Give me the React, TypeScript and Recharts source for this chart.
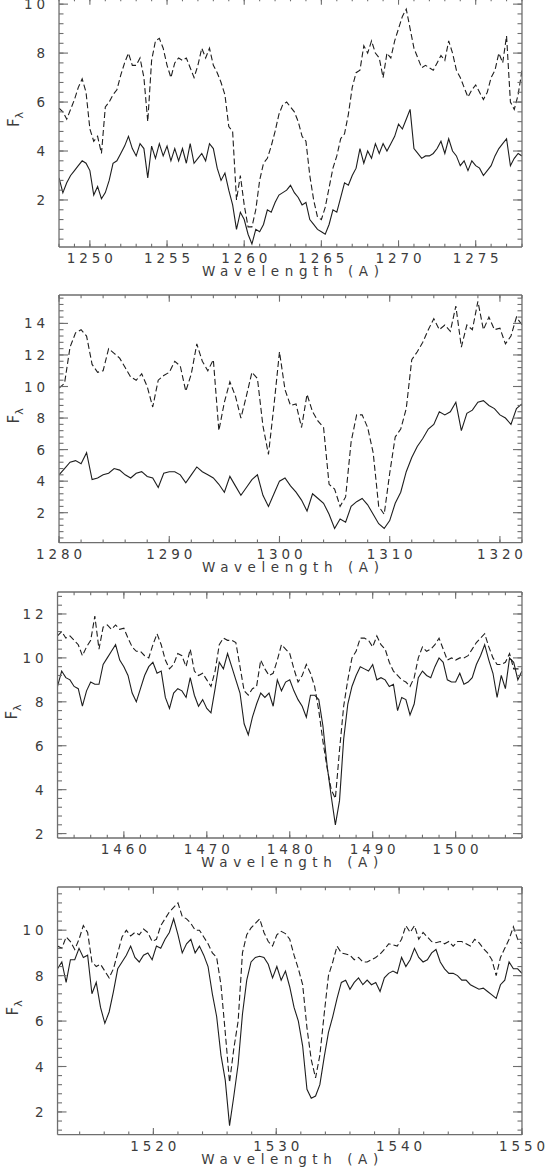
import React from "react";
import { LineChart, Line, XAxis, YAxis } from "recharts";

// ---------------------------------------------------------------------------
// Spectra (flux, on a regular wavelength grid)
// ---------------------------------------------------------------------------
const P1_START = 1248;
const P1_STEP = 0.25;
const P1_SOLID = [
  2.9, 2.3, 2.7, 3.0, 3.2, 3.4, 3.6, 3.5, 3.2, 2.2, 2.55, 2.05,
  2.3, 2.8, 3.5, 3.6, 3.9, 4.2, 4.6, 4.1, 3.8, 4.3, 4.1, 2.9,
  4.2, 3.7, 4.3, 3.8, 4.2, 3.6, 4.1, 3.6, 4.1, 3.5, 4.3, 3.5,
  3.7, 3.9, 3.6, 4.3, 4.1, 3.3, 2.8, 3.1, 2.4, 1.8, 0.8, 1.5,
  1.2, 0.6, 0.2, 0.8, 0.7, 1.0, 1.6, 1.5, 1.9, 2.2, 2.3, 2.4,
  2.6, 2.3, 2.1, 1.8, 1.9, 1.2, 1.0, 0.8, 0.7, 0.6, 1.0, 1.6,
  1.5, 2.1, 2.7, 2.6, 3.0, 3.3, 4.1, 3.5, 4.0, 3.7, 4.3, 3.9,
  4.3, 4.0, 4.3, 4.6, 5.1, 4.9, 5.3, 5.7, 4.1, 3.9, 3.7, 3.8,
  3.8, 3.9, 4.1, 4.4, 3.9, 4.5, 4.0, 3.8, 3.4, 3.6, 3.2, 3.6,
  3.4, 3.3, 3.0, 3.2, 3.4, 3.8, 4.1, 4.3, 4.5, 3.4, 3.7, 3.9,
  3.8,
];
const P1_DASHED = [
  5.75, 5.6, 5.3, 5.7, 6.1, 6.6, 6.95, 6.4, 4.9, 4.4, 4.6, 3.9,
  5.8, 6.0, 6.3, 6.5, 7.1, 7.6, 8.0, 7.5, 7.5, 7.8, 7.0, 5.2,
  7.7, 8.5, 8.6, 8.2, 7.5, 7.0, 7.6, 7.8, 7.7, 7.8, 7.4, 7.0,
  7.5, 8.2, 7.8, 8.2, 7.5, 7.2, 6.8, 6.3, 5.0, 4.8, 2.0, 3.0,
  1.8, 0.9, 0.9, 1.6, 2.8, 3.5, 3.7, 4.2, 4.8, 5.5, 5.9, 6.0,
  5.8, 5.6, 5.2, 4.6, 4.4, 3.0, 2.0, 1.3, 1.2, 1.7, 2.5, 3.3,
  3.8, 4.5, 4.7, 5.5, 6.6, 7.2, 7.3, 8.3, 8.0, 8.5, 8.0, 7.8,
  7.0, 8.0, 7.8, 8.5, 9.0, 9.5, 9.8, 9.0, 8.2, 7.8, 7.4, 7.5,
  7.4, 7.3, 7.6, 7.9, 7.7, 8.5, 8.0, 7.3, 7.0, 6.6, 6.2, 6.5,
  6.7, 6.4, 6.1, 6.4, 7.0, 7.3, 8.0, 7.6, 8.7, 6.0, 5.7, 6.3,
  7.3,
];
const P1_X_TICKS = [1250, 1255, 1260, 1265, 1270, 1275];
const P1_Y_TICKS = [2, 4, 6, 8, 10];

const P2_START = 1280;
const P2_STEP = 0.5;
const P2_SOLID = [
  4.4, 4.8, 5.2, 5.3, 5.1, 5.8, 4.1, 4.2, 4.4, 4.5, 4.8, 4.7,
  4.4, 4.2, 4.5, 4.6, 4.3, 4.2, 3.6, 4.5, 4.6, 4.6, 4.4, 3.9,
  4.4, 4.9, 4.6, 4.4, 4.2, 3.8, 3.3, 4.3, 3.7, 3.1, 3.6, 4.1,
  4.4, 3.1, 2.4, 3.2, 4.0, 4.2, 3.7, 3.3, 2.8, 2.1, 3.2, 2.9,
  2.6, 1.9, 1.0, 1.6, 1.4, 2.4, 2.7, 2.9, 2.5, 1.9, 1.3, 1.0,
  1.5, 2.6, 3.3, 4.6, 5.5, 6.2, 6.7, 7.3, 7.6, 8.4, 8.2, 8.4,
  9.0, 7.2, 8.3, 8.5, 9.0, 9.1, 8.8, 8.6, 8.2, 8.0, 7.6, 8.6,
  8.9,
];
const P2_DASHED = [
  9.9, 10.2, 12.5, 13.4, 13.6, 13.2, 11.4, 10.9, 11.0, 12.4, 12.1, 11.8,
  11.2, 10.6, 10.4, 10.8, 10.0, 8.7, 10.4, 10.7, 10.9, 11.6, 11.3, 9.7,
  10.8, 12.7, 11.6, 11.0, 11.7, 7.2, 9.0, 10.3, 9.4, 8.0, 9.4, 10.9,
  10.5, 7.5, 5.7, 8.8, 12.2, 9.8, 8.8, 8.9, 7.4, 9.5, 8.4, 7.8,
  7.4, 3.8, 3.5, 2.4, 3.0, 6.5, 8.2, 8.2, 7.4, 5.8, 2.4, 1.9,
  4.5, 6.8, 7.3, 8.6, 11.7, 12.2, 12.8, 13.6, 14.3, 13.6, 13.9, 13.5,
  15.1, 12.5, 13.9, 13.6, 15.4, 13.6, 14.4, 13.6, 13.7, 12.7, 13.2, 14.4,
  13.9,
];
const P2_X_TICKS = [1280, 1290, 1300, 1310, 1320];
const P2_Y_TICKS = [2, 4, 6, 8, 10, 12, 14];

const P3_START = 1452;
const P3_STEP = 0.5;
const P3_SOLID = [
  8.7, 9.4, 9.1, 9.0, 8.7, 8.6, 7.8, 8.5, 8.9, 8.8, 8.8, 9.7,
  10.0, 10.3, 10.6, 9.9, 9.6, 9.2, 8.4, 8.0, 8.6, 9.2, 9.6, 9.8,
  9.3, 9.4, 8.2, 7.7, 8.4, 8.6, 8.5, 8.2, 9.1, 8.3, 7.8, 8.1,
  7.7, 7.5, 8.6, 9.8, 9.5, 10.2, 9.6, 9.0, 8.4, 7.0, 6.5, 7.3,
  7.9, 8.4, 8.2, 8.4, 7.8, 9.0, 8.5, 8.9, 9.0, 8.5, 8.1, 7.8,
  7.3, 8.3, 8.3, 8.1, 6.9, 5.1, 3.7, 2.4, 3.5, 6.3, 7.9, 8.7,
  9.2, 9.6, 9.5, 9.4, 9.7, 9.0, 9.1, 9.0, 8.7, 8.8, 7.6, 8.2,
  8.1, 7.4, 7.9, 9.1, 9.4, 9.2, 9.1, 9.6, 10.0, 9.8, 9.0, 8.9,
  8.9, 9.3, 8.8, 8.9, 9.1, 9.7, 10.1, 10.6, 9.9, 9.3, 8.2, 9.2,
  8.6, 10.0, 9.8, 9.0, 9.4,
];
const P3_DASHED = [
  11.0, 11.2, 10.9, 11.0, 10.8, 10.6, 10.1, 10.5, 10.8, 11.9, 10.4, 11.4,
  11.5, 11.3, 11.5, 11.3, 11.35, 10.9, 10.5, 10.3, 10.3, 10.1, 10.0, 10.6,
  11.1, 10.6, 9.9, 9.5, 9.7, 10.2, 10.1, 9.6, 10.4, 9.4, 9.2, 9.3,
  9.0, 8.7, 9.4, 10.6, 10.9, 10.8, 10.8, 10.7, 9.6, 8.5, 8.3, 8.6,
  8.7, 9.9, 9.5, 9.2, 9.3, 9.9, 10.6, 10.4, 10.2, 9.5, 8.9, 9.2,
  9.7, 9.3, 8.7, 7.6, 6.2, 5.0, 4.0, 3.6, 5.8, 7.8, 9.0, 10.0,
  10.3, 10.9, 10.9, 10.8, 10.5, 11.0, 10.6, 10.4, 9.8, 9.4, 9.2, 9.0,
  8.9, 8.7, 9.1, 10.0, 10.5, 10.3, 10.4, 10.6, 10.9, 10.4, 9.9, 10.0,
  9.9, 10.0, 10.0, 10.1, 10.4, 10.7, 10.9, 11.1, 10.5, 10.0, 9.7, 9.7,
  9.8, 10.2, 9.5, 9.5, 9.5,
];
const P3_X_TICKS = [1460, 1470, 1480, 1490, 1500];
const P3_Y_TICKS = [2, 4, 6, 8, 10, 12];

const P4_START = 1512.2;
const P4_STEP = 0.35;
const P4_SOLID = [
  8.3, 8.6, 7.7, 8.7, 8.7, 9.2, 8.8, 8.9, 7.2, 7.7,
  6.6, 5.9, 6.4, 7.3, 8.3, 8.6, 8.9, 9.3, 8.8, 8.6,
  8.9, 9.0, 8.7, 9.3, 9.2, 9.6, 9.9, 10.5, 9.8, 9.0,
  9.4, 9.6, 9.0, 9.3, 8.9, 8.4, 7.2, 6.2, 4.5, 3.4,
  1.4, 2.7, 4.1, 6.3, 7.8, 8.6, 8.8, 8.85, 8.8, 8.5,
  7.9, 8.4, 7.8, 8.2, 7.5, 6.6, 6.0, 4.9, 3.0, 2.6,
  2.7, 3.2, 4.4, 5.5, 6.2, 7.0, 7.7, 7.8, 7.4, 7.7,
  7.9, 7.6, 7.8, 7.6, 7.7, 7.3, 7.9, 8.1, 8.2, 8.1,
  8.8, 8.4, 8.7, 9.2, 8.8, 8.6, 8.7, 9.0, 9.15, 8.6,
  8.3, 8.1, 8.1, 8.0, 7.8, 7.8, 7.6, 7.5, 7.4, 7.45,
  7.3, 7.15, 7.0, 7.6, 7.8, 8.6, 8.3, 8.3, 8.1,
];
const P4_DASHED = [
  9.3, 9.2, 9.7, 9.5, 9.15, 9.6, 10.2, 9.9, 8.6, 8.4,
  8.5, 8.2, 7.9, 8.3, 9.0, 9.7, 10.0, 9.75, 9.9, 9.8,
  10.05, 9.9, 9.5, 9.6, 10.2, 10.5, 10.8, 11.0, 11.2, 10.6,
  10.5, 10.3, 10.0, 10.0, 9.7, 9.4, 9.0, 8.8, 7.6, 5.5,
  3.3, 4.8, 6.0, 9.0, 9.8, 10.1, 10.3, 10.5, 9.9, 9.5,
  9.3, 9.8, 9.95, 9.85, 9.6, 8.9, 8.3, 7.6, 5.7, 4.3,
  3.5, 4.5, 6.3, 8.0, 8.6, 9.3, 9.0, 8.95, 8.9, 8.7,
  8.8, 8.6, 8.6, 8.7, 8.8, 8.95, 9.15, 9.4, 9.35, 9.3,
  9.6, 10.2, 9.9, 10.2, 9.6, 9.9, 9.7, 9.5, 9.45, 9.5,
  9.4, 9.5, 9.3, 9.5, 9.5, 9.4, 9.3, 9.6, 9.45, 9.2,
  9.0, 8.7, 8.0, 8.8, 9.2, 9.6, 10.15, 9.6, 9.4,
];
const P4_X_TICKS = [1520, 1530, 1540, 1550];
const P4_Y_TICKS = [2, 4, 6, 8, 10];

// ---------------------------------------------------------------------------
// Look
// ---------------------------------------------------------------------------
const W = 545;
const INK = "#1e1e1e";
const FRAME = "#6e6e6e";
const TEXT = "#3c3c3c";
const FONT = "'DejaVu Sans', sans-serif";
const TICK_FS = 13.5;
const TICK_LS = 3.9;
// axes need a non-zero box to be drawn at all
const THIN = 0.01;
const MT = 10;
const MB = 40;

function steps(from: number, to: number, step: number) {
  const out: number[] = [];
  for (let i = 0; from + i * step <= to + 1e-6; i++) out.push(+(from + i * step).toFixed(3));
  return out;
}

const waveTitle = (props: any) => {
  const vb = props.viewBox;
  return (
    <text
      x={vb.x + vb.width / 2 + 2.8}
      y={vb.y + 29}
      textAnchor="middle"
      fontFamily={FONT}
      fontSize={13.5}
      fill={TEXT}
      style={{ letterSpacing: 5.6 }}
    >
      Wavelength (A)
    </text>
  );
};

const fluxTitle = (props: any) => {
  const vb = props.viewBox;
  const x = vb.x - 40;
  const y = vb.y + vb.height / 2 - 3;
  return (
    <text
      x={x}
      y={y}
      transform={`rotate(-90 ${x} ${y})`}
      textAnchor="middle"
      fontFamily={FONT}
      fontSize={15}
      fill={TEXT}
    >
      <tspan>F</tspan>
      <tspan fontSize={11} dy={4}>λ</tspan>
    </text>
  );
};

type PanelProps = {
  top: number;
  bottom: number;
  left: number;
  right: number;
  start: number;
  step: number;
  solid: number[];
  dashed: number[];
  xDomain: [number, number];
  yDomain: [number, number];
  xTicks: number[];
  xMinor: number;
  yTicks: number[];
};

function Panel(p: PanelProps) {
  const plotH = p.bottom - p.top;
  const yBot = MT + plotH;
  const yTop = MT;
  const rows = p.solid.map((s, i) => ({ w: p.start + i * p.step, solid: s, dashed: p.dashed[i] }));
  const xMinor = steps(Math.ceil(p.xDomain[0] / p.xMinor) * p.xMinor, p.xDomain[1], p.xMinor);
  const yMinor = steps(Math.ceil(p.yDomain[0] / 0.4) * 0.4, p.yDomain[1], 0.4);
  const frame = { stroke: FRAME, strokeWidth: 1.3 };
  const ln = { stroke: FRAME, strokeWidth: 1.1 };

  // tick marks point inward on all four sides; the library gives the position
  const xMajorTick = (t: any) => (
    <g>
      <line x1={t.x} x2={t.x} y1={yBot} y2={yBot - 6.7} {...ln} />
      <line x1={t.x} x2={t.x} y1={yTop} y2={yTop + 6.7} {...ln} />
      <text
        x={t.x + TICK_LS / 2}
        y={yBot + 16}
        textAnchor="middle"
        fontFamily={FONT}
        fontSize={TICK_FS}
        fill={TEXT}
        style={{ letterSpacing: TICK_LS }}
      >
        {t.payload.value}
      </text>
    </g>
  );
  const xMinorTick = (t: any) => (
    <g>
      <line x1={t.x} x2={t.x} y1={yBot} y2={yBot - 3.3} {...ln} />
      <line x1={t.x} x2={t.x} y1={yTop} y2={yTop + 3.3} {...ln} />
    </g>
  );
  const yMajorTick = (t: any) => (
    <g>
      <line x1={p.left} x2={p.left + 9} y1={t.y} y2={t.y} {...ln} />
      <line x1={p.right} x2={p.right - 9} y1={t.y} y2={t.y} {...ln} />
      <text
        x={p.left - 14 + TICK_LS}
        y={t.y + 5}
        textAnchor="end"
        fontFamily={FONT}
        fontSize={TICK_FS}
        fill={TEXT}
        style={{ letterSpacing: TICK_LS }}
      >
        {t.payload.value}
      </text>
    </g>
  );
  const yMinorTick = (t: any) => (
    <g>
      <line x1={p.left} x2={p.left + 4.5} y1={t.y} y2={t.y} {...ln} />
      <line x1={p.right} x2={p.right - 4.5} y1={t.y} y2={t.y} {...ln} />
    </g>
  );

  const xCommon = {
    type: "number" as const,
    dataKey: "w",
    domain: p.xDomain,
    allowDataOverflow: true,
    interval: 0 as const,
    height: THIN,
    tickLine: false,
  };
  const yCommon = {
    type: "number" as const,
    domain: p.yDomain,
    allowDataOverflow: true,
    interval: 0 as const,
    width: THIN,
    tickLine: false,
  };
  return (
    <div style={{ position: "absolute", left: 0, top: p.top - MT }}>
      <LineChart
        width={W}
        height={plotH + MT + MB}
        data={rows}
        margin={{ top: MT, right: W - p.right, bottom: MB, left: p.left }}
      >
        <XAxis {...xCommon} xAxisId="b" ticks={p.xTicks} tick={xMajorTick} axisLine={frame} label={{ content: waveTitle }} />
        <XAxis {...xCommon} xAxisId="bm" ticks={xMinor} tick={xMinorTick} axisLine={false} />
        <XAxis {...xCommon} xAxisId="t" orientation="top" ticks={p.xTicks} tick={false} axisLine={frame} />
        <YAxis {...yCommon} yAxisId="l" ticks={p.yTicks} tick={yMajorTick} axisLine={frame} label={{ content: fluxTitle }} />
        <YAxis {...yCommon} yAxisId="lm" ticks={yMinor} tick={yMinorTick} axisLine={false} />
        <YAxis {...yCommon} yAxisId="r" orientation="right" ticks={p.yTicks} tick={false} axisLine={frame} />
        <Line
          xAxisId="b"
          yAxisId="l"
          type="linear"
          dataKey="dashed"
          stroke={INK}
          strokeWidth={1.1}
          strokeDasharray="6 3"
          dot={false}
          isAnimationActive={false}
        />
        <Line
          xAxisId="b"
          yAxisId="l"
          type="linear"
          dataKey="solid"
          stroke={INK}
          strokeWidth={1.1}
          dot={false}
          isAnimationActive={false}
        />
      </LineChart>
    </div>
  );
}

export default function App() {
  return (
    <div style={{ position: "absolute", left: 0, top: 0, width: W, height: 1169, background: "#fff", overflow: "hidden" }}>
      <Panel
        top={-2}
        bottom={247}
        left={59}
        right={522}
        start={P1_START}
        step={P1_STEP}
        solid={P1_SOLID}
        dashed={P1_DASHED}
        xDomain={[1248, 1278]}
        yDomain={[0.08, 10.25]}
        xTicks={P1_X_TICKS}
        xMinor={1}
        yTicks={P1_Y_TICKS}
      />
      <Panel
        top={295}
        bottom={542.7}
        left={59}
        right={522}
        start={P2_START}
        step={P2_STEP}
        solid={P2_SOLID}
        dashed={P2_DASHED}
        xDomain={[1280, 1322]}
        yDomain={[0.1, 15.8]}
        xTicks={P2_X_TICKS}
        xMinor={2}
        yTicks={P2_Y_TICKS}
      />
      <Panel
        top={592.3}
        bottom={838.3}
        left={57.5}
        right={522}
        start={P3_START}
        step={P3_STEP}
        solid={P3_SOLID}
        dashed={P3_DASHED}
        xDomain={[1452, 1508]}
        yDomain={[1.8, 13]}
        xTicks={P3_X_TICKS}
        xMinor={2}
        yTicks={P3_Y_TICKS}
      />
      <Panel
        top={887.3}
        bottom={1135}
        left={57.5}
        right={522}
        start={P4_START}
        step={P4_STEP}
        solid={P4_SOLID}
        dashed={P4_DASHED}
        xDomain={[1512.2, 1550]}
        yDomain={[1.0, 11.9]}
        xTicks={P4_X_TICKS}
        xMinor={2}
        yTicks={P4_Y_TICKS}
      />
    </div>
  );
}
